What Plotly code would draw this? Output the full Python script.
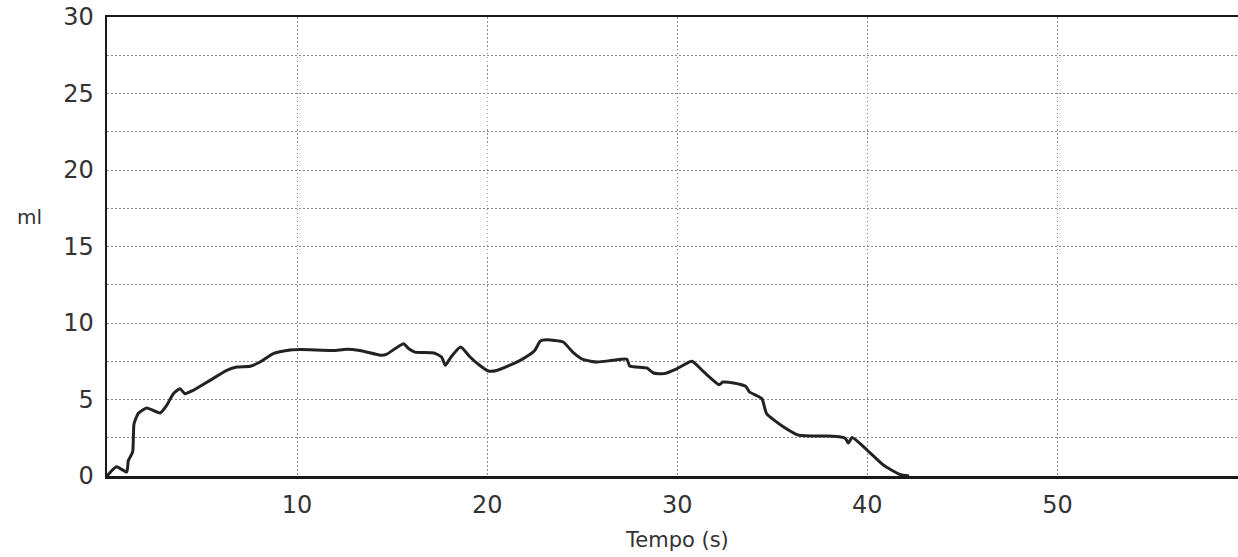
import plotly.graph_objects as go

# Time (s) and volume (ml)
tempo = [0.0, 0.5, 1.04, 1.12, 1.35, 1.42, 1.65, 2.09, 2.79, 3.14, 3.49, 3.84, 4.1, 4.54,
         5.42, 6.3, 6.83, 7.53, 8.05, 8.75, 9.46, 10.16, 11.9, 12.6, 13.3, 14.4, 14.7,
         15.6, 15.86, 16.2, 17.2, 17.6, 17.8, 18.1, 18.6, 19.1, 19.6, 20.07, 20.5, 21.2,
         21.9, 22.5, 22.8, 23.14, 24.0, 24.5, 25.07, 25.8, 26.6, 27.35, 27.5, 28.4, 28.75,
         29.3, 30.0, 30.77, 31.4, 32.2, 32.4, 32.96, 33.6, 33.8, 34.45, 34.7, 35.6, 36.4,
         37.9, 38.6, 38.85, 39.0, 39.2, 40.0, 40.86, 41.7, 42.2]
volume = [0.0, 0.6, 0.26, 1.0, 1.57, 3.4, 4.1, 4.45, 4.12, 4.62, 5.38, 5.71, 5.38, 5.6,
          6.25, 6.9, 7.12, 7.17, 7.45, 8.0, 8.2, 8.26, 8.2, 8.28, 8.2, 7.9, 7.95,
          8.65, 8.33, 8.1, 8.04, 7.78, 7.24, 7.78, 8.43, 7.78, 7.24, 6.86, 6.9, 7.24,
          7.67, 8.2, 8.82, 8.9, 8.76, 8.1, 7.6, 7.45, 7.56, 7.63, 7.19, 7.06, 6.73,
          6.69, 7.02, 7.5, 6.8, 5.97, 6.14, 6.08, 5.86, 5.49, 5.06, 4.08, 3.2, 2.66,
          2.61, 2.55, 2.45, 2.16, 2.51, 1.68, 0.7, 0.11, 0.0]

x_ticks = [10, 20, 30, 40, 50]
y_ticks = [0, 5, 10, 15, 20, 25, 30]

FONT = "DejaVu Sans"
TXT = "#333333"
GRID = "#8a8a8a"
DASH = "1.5px,2.5px"

W, H = 1238, 557
ML, MR, MT, MB = 107, 0, 17, 81

fig = go.Figure()
fig.add_trace(go.Scatter(
    x=tempo, y=volume, mode="lines",
    line=dict(color="#222222", width=3, shape="spline", smoothing=0.5),
    hoverinfo="skip", showlegend=False,
))

fig.update_layout(
    width=W, height=H,
    margin=dict(l=ML, r=MR, t=MT, b=MB),
    paper_bgcolor="white", plot_bgcolor="white",
    font=dict(family=FONT, color=TXT),
    xaxis=dict(
        range=[0, 59.5], tickvals=x_ticks, ticktext=[str(v) for v in x_ticks],
        showgrid=True, gridcolor=GRID, griddash=DASH, gridwidth=1,
        showline=True, linecolor="#1a1a1a", linewidth=2.5, mirror=True,
        ticks="", zeroline=False, tickfont=dict(size=24, color=TXT),
        ticklabelstandoff=6,
    ),
    yaxis=dict(
        range=[0, 30], tickvals=y_ticks, ticktext=[str(v) for v in y_ticks],
        showgrid=True, gridcolor=GRID, griddash=DASH, gridwidth=1,
        minor=dict(dtick=2.5, showgrid=True, gridcolor=GRID, griddash=DASH, gridwidth=1),
        showline=True, linecolor="#1a1a1a", linewidth=2.5,
        ticks="", zeroline=False, tickfont=dict(size=24, color=TXT),
        ticklabelstandoff=6,
    ),
    annotations=[
        dict(text="ml", x=(29 - ML) / (W - ML - MR), y=(H - MB - 217) / (H - MT - MB),
             xref="paper", yref="paper", xanchor="center", yanchor="middle",
             showarrow=False, font=dict(size=20, color=TXT, family=FONT)),
        dict(text="Tempo (s)", x=30, xref="x", yref="paper", y=0, yshift=-64,
             xanchor="center", yanchor="middle",
             showarrow=False, font=dict(size=21, color=TXT, family=FONT)),
    ],
)

fig.write_html("out.html", config={"displayModeBar": False, "staticPlot": True},
               post_script="document.body.style.margin='0';document.body.style.overflow='hidden';")
